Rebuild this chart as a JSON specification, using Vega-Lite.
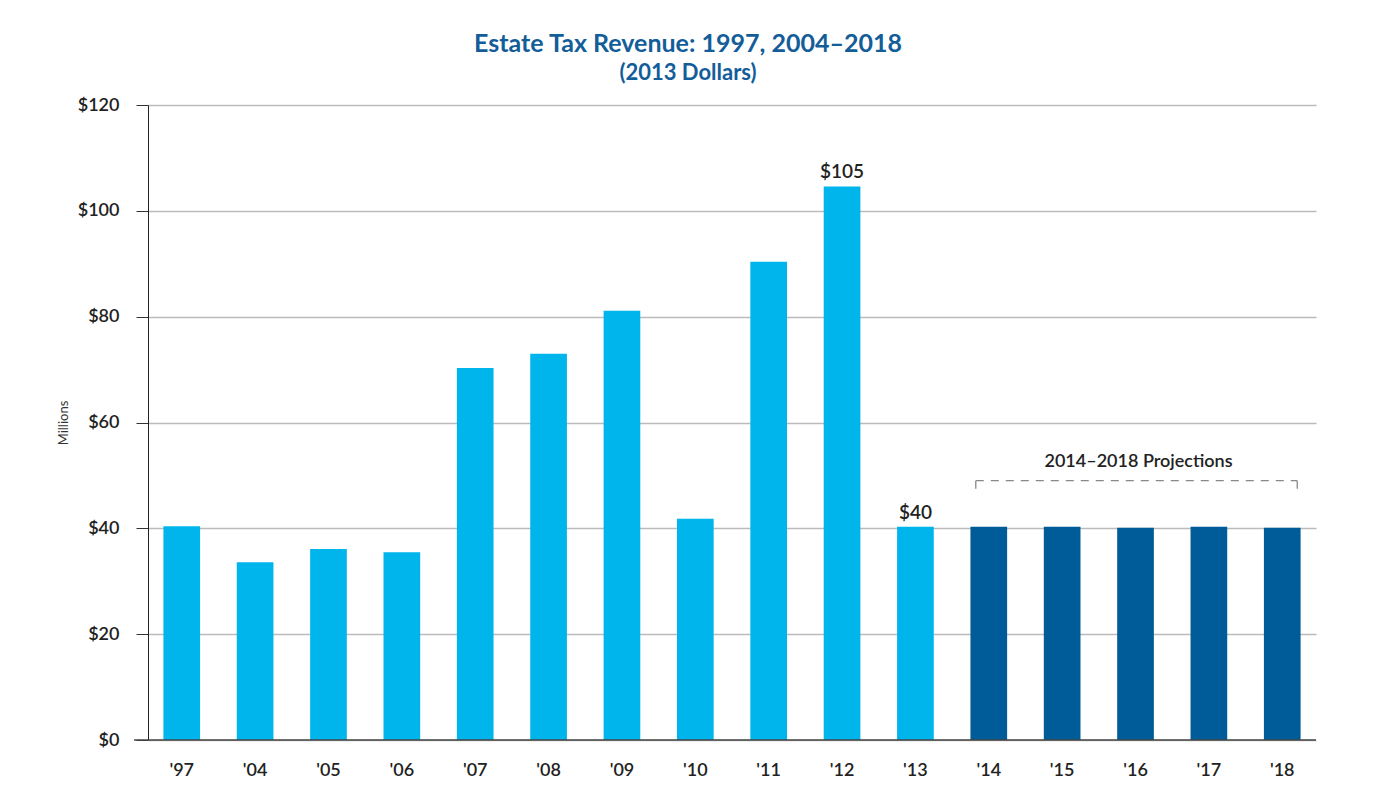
{
  "$schema": "https://vega.github.io/schema/vega-lite/v6.json",
  "width": 1168,
  "height": 635,
  "autosize": "none",
  "padding": {"left": 148, "top": 105, "right": 63, "bottom": 49},
  "background": "white",
  "config": {
    "font": "Lato",
    "view": {"stroke": null},
    "axis": {"labelFont": "Lato", "titleFont": "Lato"}
  },
  "title": {
    "text": "Estate Tax Revenue: 1997, 2004–2018",
    "subtitle": "(2013 Dollars)",
    "color": "#135d99",
    "subtitleColor": "#135d99",
    "fontSize": 25,
    "subtitleFontSize": 22,
    "fontWeight": "bold",
    "subtitleFontWeight": "bold",
    "subtitlePadding": 6,
    "anchor": "middle",
    "dx": -44,
    "offset": 12,
    "font": "Lato",
    "subtitleFont": "Lato"
  },
  "data": {
    "values": [
      {"year": "'97", "value": 40.4, "type": "actual"},
      {"year": "'04", "value": 33.6, "type": "actual"},
      {"year": "'05", "value": 36.1, "type": "actual"},
      {"year": "'06", "value": 35.5, "type": "actual"},
      {"year": "'07", "value": 70.3, "type": "actual"},
      {"year": "'08", "value": 73.0, "type": "actual"},
      {"year": "'09", "value": 81.1, "type": "actual"},
      {"year": "'10", "value": 41.8, "type": "actual"},
      {"year": "'11", "value": 90.4, "type": "actual"},
      {"year": "'12", "value": 104.6, "type": "actual", "label": "$105"},
      {"year": "'13", "value": 40.3, "type": "actual", "label": "$40"},
      {"year": "'14", "value": 40.3, "type": "projection"},
      {"year": "'15", "value": 40.3, "type": "projection"},
      {"year": "'16", "value": 40.1, "type": "projection"},
      {"year": "'17", "value": 40.3, "type": "projection"},
      {"year": "'18", "value": 40.1, "type": "projection"}
    ]
  },
  "encoding": {
    "x": {
      "field": "year",
      "type": "ordinal",
      "sort": null,
      "scale": {"paddingInner": 0.5, "paddingOuter": 0.21},
      "axis": {
        "title": null,
        "domain": false,
        "ticks": false,
        "labelAngle": 0,
        "labelFontSize": 18,
        "labelFontWeight": 600,
        "labelColor": "#222",
        "labelPadding": 21
      }
    }
  },
  "layer": [
    {
      "mark": {"type": "bar"},
      "encoding": {
        "y": {
          "field": "value",
          "type": "quantitative",
          "scale": {"domain": [0, 120], "nice": false},
          "axis": {
            "title": "Millions",
            "titleFontSize": 13,
            "titleFontWeight": "normal",
            "titleColor": "#333",
            "titlePadding": 7,
            "values": [0, 20, 40, 60, 80, 100, 120],
            "labelExpr": "'$' + datum.value",
            "labelFontSize": 18,
            "labelFontWeight": 600,
            "labelColor": "#222",
            "labelPadding": 17,
            "tickSize": 12,
            "tickColor": "#333",
            "domainColor": "#222",
            "gridColor": "#bbbbbb",
            "gridWidth": 1.3
          }
        },
        "color": {
          "field": "type",
          "type": "nominal",
          "scale": {"domain": ["actual", "projection"], "range": ["#00b5ec", "#005b99"]},
          "legend": null
        }
      }
    },
    {
      "transform": [{"filter": "isValid(datum.label)"}],
      "mark": {"type": "text", "baseline": "bottom", "dy": -4, "fontSize": 19, "fontWeight": 600, "color": "#222"},
      "encoding": {
        "y": {"field": "value", "type": "quantitative"},
        "text": {"field": "label"}
      }
    },
    {
      "data": {"values": [{"y": 0}]},
      "mark": {"type": "rule", "color": "#444", "strokeWidth": 1.5},
      "encoding": {"y": {"field": "y", "type": "quantitative"}, "x": {"value": -14}, "x2": {"value": 1168}}
    },
    {
      "data": {"values": [{"start": "'14", "end": "'18", "y": 49.0}]},
      "mark": {"type": "rule", "color": "#888", "strokeDash": [8, 7], "strokeWidth": 1.3, "xOffset": -13, "x2Offset": 15},
      "encoding": {
        "x": {"field": "start", "type": "ordinal"},
        "x2": {"field": "end"},
        "y": {"field": "y", "type": "quantitative"}
      }
    },
    {
      "data": {"values": [{"year": "'14", "y": 49.0, "y2": 47.5}]},
      "mark": {"type": "rule", "color": "#888", "strokeWidth": 1.3, "xOffset": -13},
      "encoding": {
        "x": {"field": "year", "type": "ordinal"},
        "y": {"field": "y", "type": "quantitative"},
        "y2": {"field": "y2"}
      }
    },
    {
      "data": {"values": [{"year": "'18", "y": 49.0, "y2": 47.5}]},
      "mark": {"type": "rule", "color": "#888", "strokeWidth": 1.3, "xOffset": 15},
      "encoding": {
        "x": {"field": "year", "type": "ordinal"},
        "y": {"field": "y", "type": "quantitative"},
        "y2": {"field": "y2"}
      }
    },
    {
      "data": {"values": [{"year": "'16", "y": 52.6, "text": "2014–2018 Projections"}]},
      "mark": {"type": "text", "fontSize": 18, "fontWeight": 600, "color": "#222", "dx": 3},
      "encoding": {
        "x": {"field": "year", "type": "ordinal"},
        "y": {"field": "y", "type": "quantitative"},
        "text": {"field": "text"}
      }
    }
  ]
}
